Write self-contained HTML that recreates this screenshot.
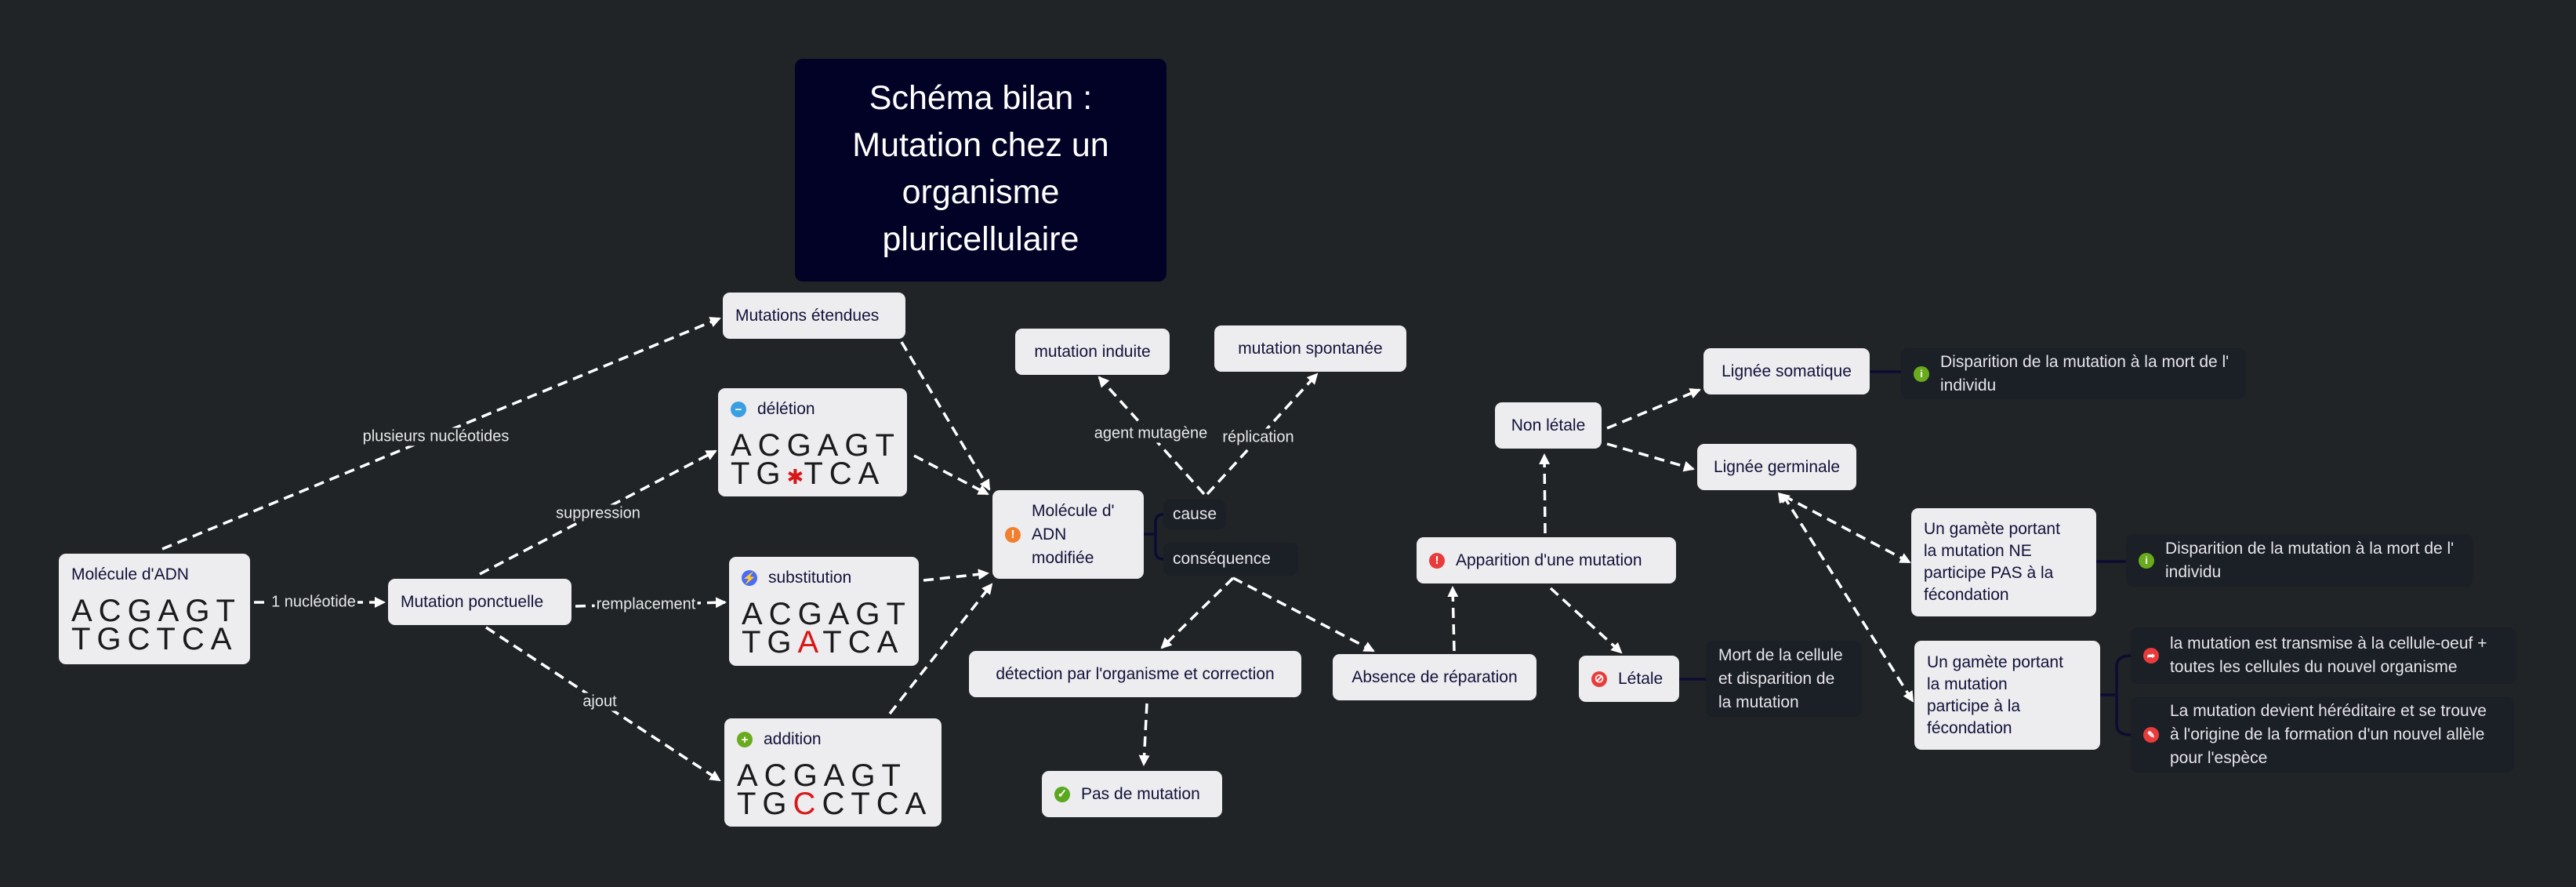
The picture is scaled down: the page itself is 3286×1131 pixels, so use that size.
<!DOCTYPE html>
<html><head><meta charset="utf-8"><style>
html,body{margin:0;padding:0}
body{width:3286px;height:1131px;background:#202427;position:relative;overflow:hidden;font-family:"Liberation Sans",sans-serif}
.n{position:absolute;background:#edecef;border-radius:9px;color:#12123a;font-size:21px;box-sizing:border-box;display:flex;align-items:center;padding:0 16px;white-space:nowrap}
.c{justify-content:center}
.d{position:absolute;background:#1b1f26;border-radius:9px;color:#e6e6ea;font-size:21px;box-sizing:border-box;display:flex;align-items:center;padding:0 16px;line-height:30px}
.dna{position:absolute;background:#edecef;border-radius:9px;color:#12123a;box-sizing:border-box;padding:12px 16px}
.dna .h{font-size:21px;line-height:30px;height:30px;display:flex;align-items:center;white-space:nowrap}
.dna .l{font-size:40px;line-height:36px;letter-spacing:8px;color:#1a1a1a;white-space:nowrap}
.ic{display:inline-flex;width:20px;height:20px;border-radius:50%;color:#fff;font-size:15px;font-weight:bold;align-items:center;justify-content:center;margin-right:14px;flex:none;line-height:1}
.lb{position:absolute;color:#e8e8e8;font-size:20px;background:#202427;transform:translate(-50%,-50%);white-space:nowrap;padding:0 2px}
.red{color:#d81818}
</style></head><body>

<svg width="3286" height="1131" style="position:absolute;left:0;top:0">
<defs>
<marker id="a2" markerWidth="14" markerHeight="14" refX="12" refY="7" orient="auto" markerUnits="userSpaceOnUse"><path d="M0,0 L14,7 L0,14 z" fill="#fff"/></marker></defs>
<g stroke="#fff" stroke-width="3.5" stroke-dasharray="13 8" fill="none" marker-end="url(#a2)">
<line x1="207" y1="700" x2="918" y2="406"/>
<line x1="324" y1="768" x2="490" y2="768"/>
<line x1="612" y1="732" x2="913" y2="575"/>
<line x1="734" y1="773" x2="925" y2="768"/>
<line x1="620" y1="800" x2="918" y2="995"/>
<line x1="1150" y1="436" x2="1262" y2="624"/>
<line x1="1166" y1="581" x2="1260" y2="630"/>
<line x1="1178" y1="740" x2="1260" y2="731"/>
<line x1="1135" y1="910" x2="1265" y2="745"/>
<line x1="1536" y1="630" x2="1402" y2="481"/>
<line x1="1540" y1="630" x2="1680" y2="477"/>
<line x1="1573" y1="737" x2="1482" y2="826"/>
<line x1="1573" y1="737" x2="1752" y2="830"/>
<line x1="1463" y1="897" x2="1459" y2="975"/>
<line x1="1855" y1="830" x2="1853" y2="749"/>
<line x1="1971" y1="680" x2="1970" y2="580"/>
<line x1="1978" y1="750" x2="2068" y2="832"/>
<line x1="2050" y1="546" x2="2168" y2="497"/>
<line x1="2050" y1="566" x2="2160" y2="598"/>
<line x1="2275" y1="632" x2="2436" y2="717"/>
<line x1="2275" y1="632" x2="2440" y2="894"/>
</g>
<g fill="#fff"><path d="M2268,628 l16,4 l-10,10 z"/><path d="M2268,628 l14,8 l-12,6 z"/></g>
<g stroke="#0c0c33" stroke-width="3.5" fill="none">
<path d="M1459,681 H1474 M1484,656 Q1474,656 1474,666 V703 Q1474,713 1484,713"/>
<line x1="2142" y1="866" x2="2176" y2="866"/>
<line x1="2385" y1="474" x2="2425" y2="474"/>
<line x1="2674" y1="716" x2="2712" y2="716"/>
<path d="M2679,886 H2698 M2718,836 Q2700,836 2700,850 V924 Q2700,937 2718,937"/>
</g>
</svg>

<div style="position:absolute;left:1014px;top:75px;width:474px;height:284px;background:#020226;border-radius:10px;color:#fff;font-size:43px;line-height:60px;text-align:center;padding-top:20px;box-sizing:border-box">Schéma bilan :<br>Mutation chez un<br>organisme<br>pluricellulaire</div>

<div class="lb" style="left:556px;top:557px">plusieurs nucléotides</div>
<div class="lb" style="left:400px;top:768px">1 nucléotide</div>
<div class="lb" style="left:763px;top:655px">suppression</div>
<div class="lb" style="left:824px;top:771px">remplacement</div>
<div class="lb" style="left:765px;top:895px">ajout</div>
<div class="lb" style="left:1468px;top:553px">agent mutagène</div>
<div class="lb" style="left:1605px;top:558px">réplication</div>

<div class="dna" style="left:75px;top:706px;width:244px;height:141px"><div class="h">Molécule d'ADN</div><div class="l" style="margin-top:13px">ACGAGT</div><div class="l">TGCTCA</div></div>
<div class="n" style="left:495px;top:738px;width:234px;height:59px">Mutation ponctuelle</div>
<div class="n" style="left:922px;top:373px;width:233px;height:59px">Mutations étendues</div>

<div class="dna" style="left:916px;top:495px;width:241px;height:138px"><div class="h"><span class="ic" style="background:#3a9fe0">−</span>délétion</div><div class="l" style="margin-top:13px">ACGAGT</div><div class="l">TG<span class="red" style="font-size:26px;letter-spacing:0">✱</span>TCA</div></div>
<div class="dna" style="left:930px;top:710px;width:242px;height:139px"><div class="h"><span class="ic" style="background:#4a6cf7">⚡</span>substitution</div><div class="l" style="margin-top:13px">ACGAGT</div><div class="l">TG<span class="red">A</span>TCA</div></div>
<div class="dna" style="left:924px;top:916px;width:277px;height:138px"><div class="h"><span class="ic" style="background:#6aaa1e">+</span>addition</div><div class="l" style="margin-top:13px">ACGAGT</div><div class="l">TG<span class="red">C</span>CTCA</div></div>

<div class="n" style="left:1266px;top:625px;width:193px;height:113px;white-space:normal;line-height:30px"><span class="ic" style="background:#f08030">!</span><span>Molécule d'<br>ADN<br>modifiée</span></div>
<div class="d" style="left:1484px;top:637px;width:80px;height:38px;padding:0 12px">cause</div>
<div class="d" style="left:1484px;top:692px;width:172px;height:42px;padding:0 12px">conséquence</div>

<div class="n c" style="left:1295px;top:419px;width:197px;height:59px">mutation induite</div>
<div class="n c" style="left:1549px;top:415px;width:245px;height:59px">mutation spontanée</div>
<div class="n c" style="left:1236px;top:830px;width:424px;height:59px">détection par l'organisme et correction</div>
<div class="n" style="left:1329px;top:983px;width:230px;height:59px"><span class="ic" style="background:#5aa820">✓</span>Pas de mutation</div>
<div class="n c" style="left:1700px;top:834px;width:260px;height:59px">Absence de réparation</div>
<div class="n" style="left:1807px;top:685px;width:331px;height:59px"><span class="ic" style="background:#e83c3c">!</span>Apparition d'une mutation</div>
<div class="n" style="left:2014px;top:836px;width:128px;height:59px"><span class="ic" style="background:#e83c3c">⊘</span>Létale</div>
<div class="d" style="left:2176px;top:817px;width:199px;height:97px">Mort de la cellule<br>et disparition de<br>la mutation</div>
<div class="n c" style="left:1907px;top:513px;width:136px;height:59px">Non létale</div>
<div class="n c" style="left:2173px;top:444px;width:212px;height:59px">Lignée somatique</div>
<div class="n c" style="left:2165px;top:566px;width:203px;height:59px">Lignée germinale</div>
<div class="d" style="left:2425px;top:444px;width:440px;height:65px"><span class="ic" style="background:#6aaa1e;font-size:13px">i</span><span>Disparition de la mutation à la mort de l'<br>individu</span></div>
<div class="n" style="left:2438px;top:648px;width:236px;height:138px;line-height:28px"><span>Un gamète portant<br>la mutation NE<br>participe PAS à la<br>fécondation</span></div>
<div class="d" style="left:2712px;top:681px;width:442px;height:67px"><span class="ic" style="background:#6aaa1e;font-size:13px">i</span><span>Disparition de la mutation à la mort de l'<br>individu</span></div>
<div class="n" style="left:2442px;top:817px;width:237px;height:139px;line-height:28px"><span>Un gamète portant<br>la mutation<br>participe à la<br>fécondation</span></div>
<div class="d" style="left:2718px;top:800px;width:491px;height:72px"><span class="ic" style="background:#e83c3c;font-size:12px">➦</span><span>la mutation est transmise à la cellule-oeuf +<br>toutes les cellules du nouvel organisme</span></div>
<div class="d" style="left:2718px;top:889px;width:489px;height:96px"><span class="ic" style="background:#e83c3c;font-size:12px">✎</span><span>La mutation devient héréditaire et se trouve<br>à l'origine de la formation d'un nouvel allèle<br>pour l'espèce</span></div>
</body></html>
